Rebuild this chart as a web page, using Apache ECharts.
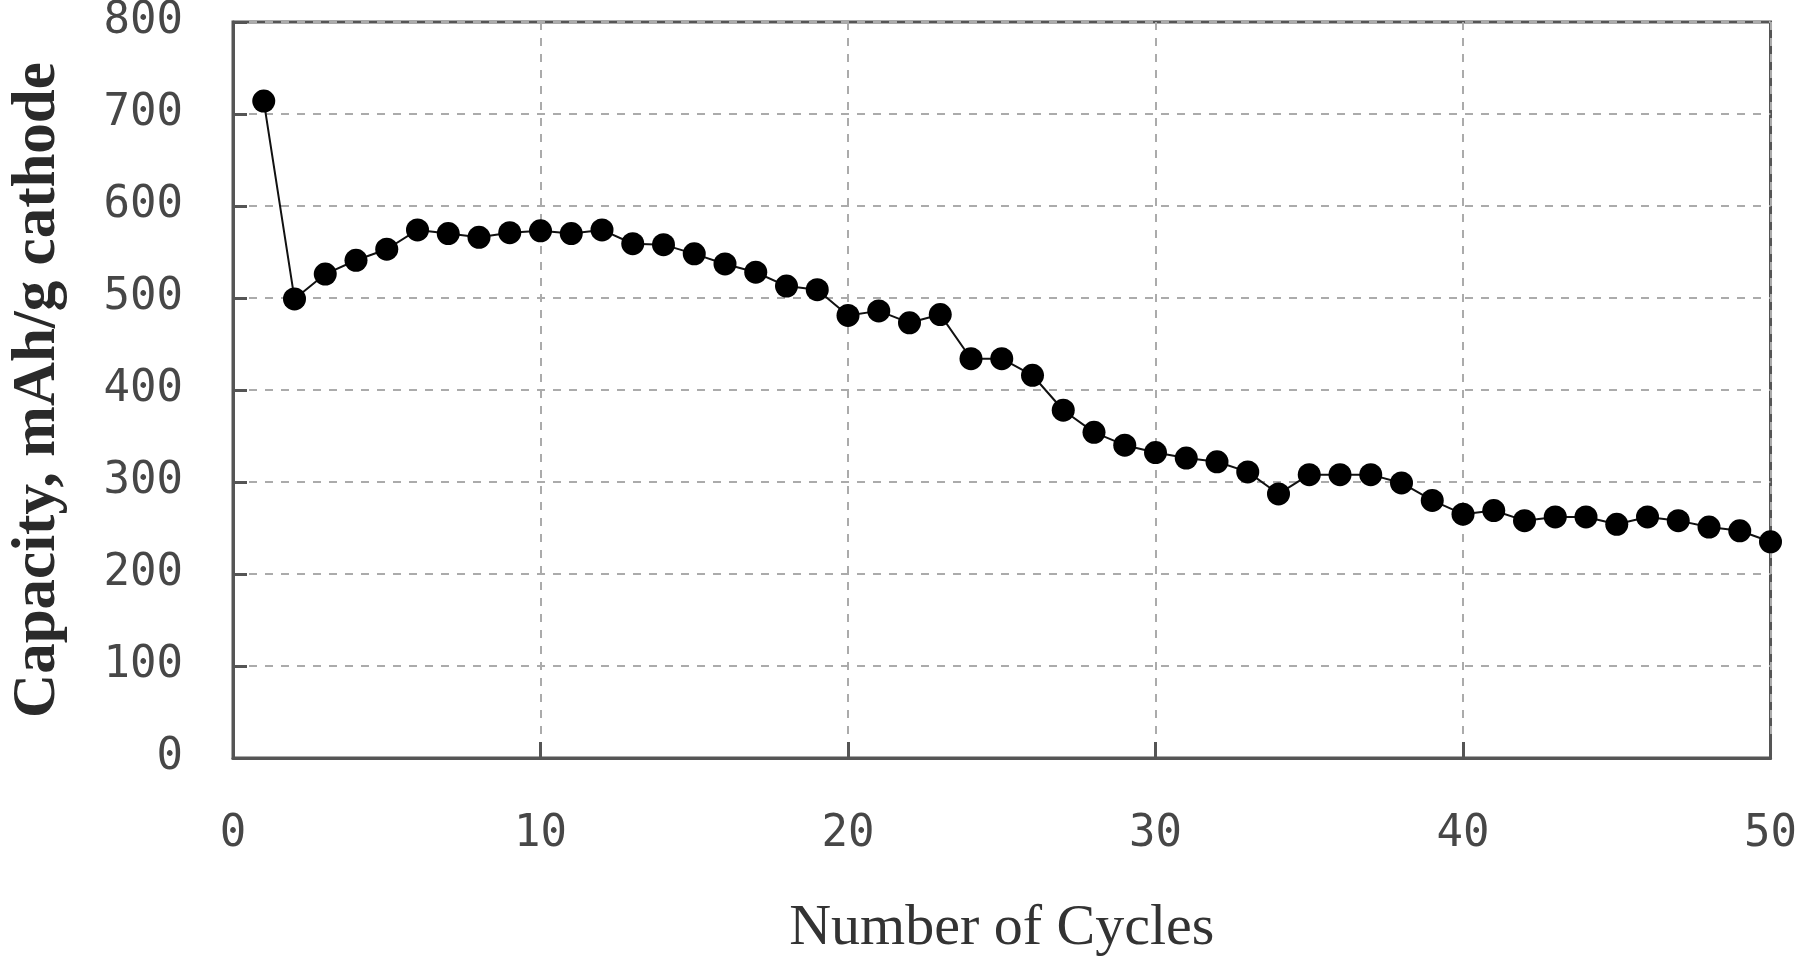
<!DOCTYPE html>
<html>
<head>
<meta charset="utf-8">
<script src="https://cdn.jsdelivr.net/npm/echarts@6/dist/echarts.min.js"></script>
<style>
html,body{margin:0;padding:0;background:#fff;}
#chart{width:1800px;height:963px;}
</style>
</head>
<body>
<div id="chart"></div>
<script>
const cycles = [1,2,3,4,5,6,7,8,9,10,11,12,13,14,15,16,17,18,19,20,21,22,23,24,25,26,27,28,29,30,31,32,33,34,35,36,37,38,39,40,41,42,43,44,45,46,47,48,49,50];
const capacity = [714,499,526,541,553,574,570,566,571,573,570,574,559,558,548,537,528,513,509,481,486,473,482,434,434,416,378,354,340,332,326,322,311,287,308,308,308,299,280,265,269,258,262,262,254,262,258,251,247,235];
const xTitle = 'Number of Cycles';
const yTitle = 'Capacity, mAh/g cathode';

const chart = echarts.init(document.getElementById('chart'), null, {renderer:'canvas'});
const tickFont = {fontFamily:'DejaVu Sans Mono', fontSize:44, color:'#474747'};
const gridLine = {show:true, lineStyle:{color:'#ababab', width:2, type:[8,8]}};
chart.setOption({
  animation:false,
  backgroundColor:'#fff',
  grid:{left:231, right:24, top:20, bottom:199, show:true, borderColor:'#555', borderWidth:3, backgroundColor:'transparent'},
  xAxis:{
    type:'value', min:0, max:50, interval:10,
    name:xTitle, nameLocation:'middle', nameGap:142,
    nameTextStyle:{fontFamily:'Liberation Serif', fontSize:58, color:'#333'},
    axisLine:{show:true, onZero:false, lineStyle:{color:'#555', width:3}},
    axisTick:{show:true, inside:true, length:16, lineStyle:{color:'#555', width:3}},
    axisLabel:Object.assign({margin:55}, tickFont),
    splitLine:gridLine
  },
  yAxis:{
    type:'value', min:0, max:800, interval:100,
    name:yTitle, nameLocation:'middle', nameGap:164, nameRotate:90,
    nameTextStyle:{fontFamily:'Liberation Serif', fontSize:61, fontWeight:'bold', color:'#2a2a2a'},
    axisLine:{show:true, lineStyle:{color:'#555', width:3}},
    axisTick:{show:true, inside:true, length:14, lineStyle:{color:'#555', width:3}},
    axisLabel:Object.assign({margin:50}, tickFont),
    splitLine:gridLine
  },
  series:[{
    type:'line',
    data:cycles.map((c,i)=>[c, capacity[i]]),
    symbol:'circle', symbolSize:23,
    itemStyle:{color:'#000'},
    lineStyle:{color:'#111', width:2},
    z:5
  }]
});
</script>
</body>
</html>
